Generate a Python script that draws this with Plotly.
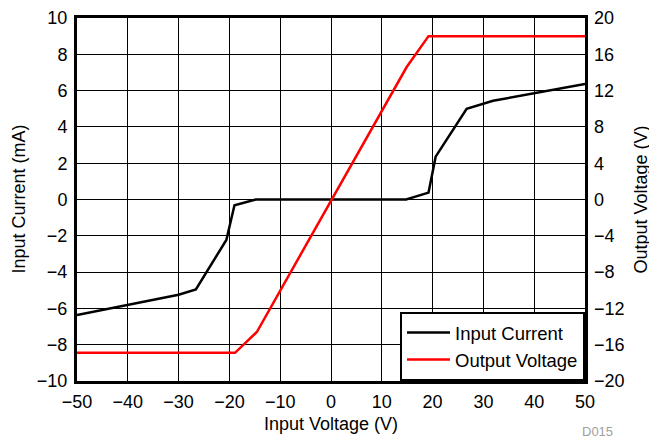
import plotly.graph_objects as go

# Input current (mA) vs input voltage (V)
vin_current = [-50, -30, -26.6, -20.6, -19.0, -14.8, 14.8, 19.2, 20.6, 26.7, 31.9, 50]
input_current = [-6.37, -5.25, -4.95, -2.23, -0.32, 0.0, 0.0, 0.38, 2.36, 5.0, 5.44, 6.36]

# Output voltage (V) vs input voltage (V)
vin_output = [-50, -18.9, -14.6, 14.9, 19.2, 50]
output_voltage = [-16.9, -16.9, -14.6, 14.6, 18.0, 18.0]

x_ticks = list(range(-50, 51, 10))
left_ticks = list(range(-10, 11, 2))
right_ticks = list(range(-20, 21, 4))

FONT = "Liberation Sans, Arial, sans-serif"
FS = 18

fig = go.Figure()
fig.add_trace(go.Scatter(
    x=vin_current, y=input_current, mode="lines", name="Input Current",
    line=dict(color="black", width=2.5),
))
fig.add_trace(go.Scatter(
    x=vin_output, y=output_voltage, mode="lines", name="Output Voltage",
    line=dict(color="#ff0000", width=2.5), yaxis="y2",
))

# page body adds an 8px offset, so the figure is 8px smaller than the window
fig.update_layout(
    width=649, height=430,
    margin=dict(l=69, r=72, t=10, b=57, autoexpand=False),
    paper_bgcolor="white", plot_bgcolor="white",
    font=dict(family=FONT, size=FS, color="black"),
    showlegend=True,
    legend=dict(
        x=1, y=0, xanchor="right", yanchor="bottom",
        bgcolor="white", bordercolor="black", borderwidth=2,
        font=dict(size=18.5), tracegroupgap=0, itemwidth=43,
    ),
    xaxis=dict(
        range=[-50, 50], tickvals=x_ticks, ticks="", ticklabelstandoff=2,
        showgrid=True, gridcolor="black", gridwidth=1, automargin=False,
        zeroline=False, showline=True, linecolor="black", linewidth=3,
        mirror=True,
    ),
    yaxis=dict(
        range=[-10, 10], tickvals=left_ticks, ticks="", ticklabelstandoff=3,
        showgrid=True, gridcolor="black", gridwidth=1, automargin=False,
        zeroline=False, showline=True, linecolor="black", linewidth=3,
        mirror=True,
    ),
    yaxis2=dict(
        range=[-20, 20], tickvals=right_ticks, ticks="", ticklabelstandoff=8,
        overlaying="y", side="right", showgrid=False, zeroline=False,
        automargin=False,
    ),
)

titles = [
    dict(text="Input Voltage (V)", x=0.5, y=0, xshift=0, yshift=-43, textangle=0),
    dict(text="Input Current (mA)", x=0, y=0.5, xshift=-59, yshift=0, textangle=-90),
    dict(text="Output Voltage (V)", x=1, y=0.5, xshift=55, yshift=0, textangle=-90),
]
for t in titles:
    fig.add_annotation(
        xref="paper", yref="paper", xanchor="center", yanchor="middle",
        showarrow=False, font=dict(size=FS), **t,
    )

fig.add_annotation(
    text="D015", xref="paper", yref="paper", x=1.0, y=0,
    xanchor="right", yanchor="middle", showarrow=False,
    font=dict(size=13, color="#a0a0a0"), xshift=30, yshift=-50,
)

fig.write_html("out.html")
